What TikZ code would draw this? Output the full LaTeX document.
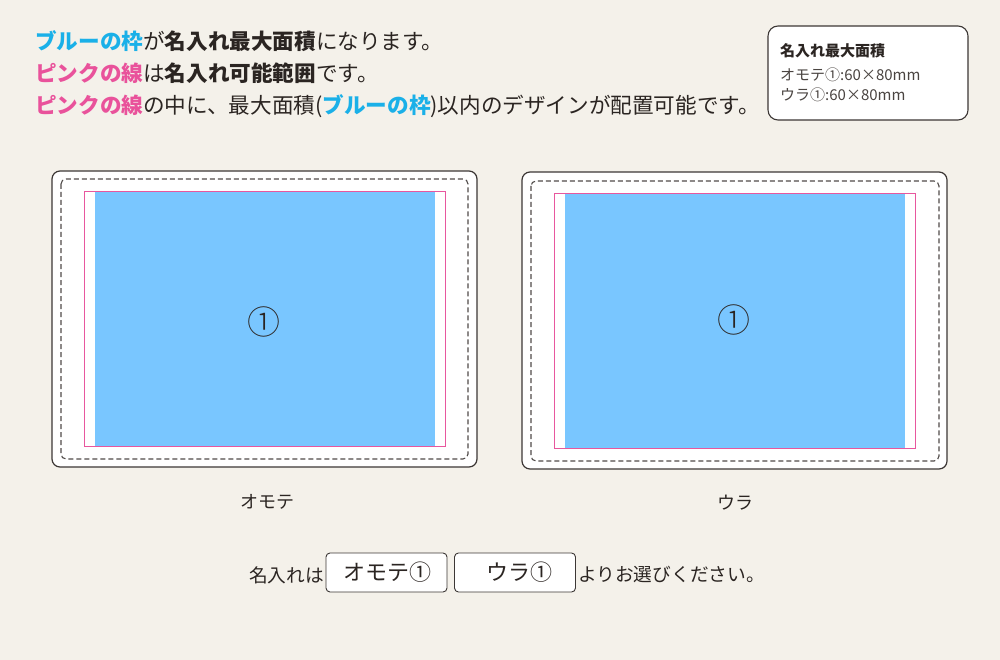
\documentclass[tikz,border=0pt]{standalone}
\usepackage{fontspec}
\setmainfont{Noto Sans CJK JP}
\newfontfamily\cjk{Noto Sans CJK JP}
\newfontfamily\cjkl{Noto Sans CJK JP Light}
\definecolor{bgc}{HTML}{F4F1EA}
\definecolor{txt}{HTML}{2B2522}
\definecolor{cyanT}{HTML}{1AB0E8}
\definecolor{pinkT}{HTML}{E9529B}
\definecolor{blueF}{HTML}{79C6FF}
\definecolor{pinkL}{HTML}{E8579E}
\definecolor{edge}{HTML}{3C3735}
\definecolor{gtxt}{HTML}{4A4441}
\begin{document}
\begin{tikzpicture}[x=1pt,y=-1pt,
  card/.style={draw=edge,line width=1.2pt,fill=white,rounded corners=8pt},
  dashline/.style={draw=edge!90,line width=1.1pt,dash pattern=on 5pt off 3pt,rounded corners=5pt},
  pinkline/.style={draw=pinkL,line width=0.9pt},
  bluearea/.style={fill=blueF},
  headtxt/.style={anchor=base west,inner sep=0pt,font=\cjk\fontsize{21.6}{24}\selectfont,text=txt},
  lbl/.style={inner sep=0pt,font=\cjk\fontsize{18}{20}\selectfont,text=txt},
  circ/.style={inner sep=0pt,font=\cjkl\fontsize{33}{34}\selectfont,text=txt},
  btn/.style={draw=edge,line width=0.9pt,fill=white,rounded corners=4pt,minimum width=121pt,minimum height=39pt,inner sep=0pt,font=\cjk\fontsize{22}{24}\selectfont,text=txt},
  seltxt/.style={inner sep=0pt,font=\cjk\fontsize{18.7}{22}\selectfont,text=txt},
  legtxt/.style={anchor=base west,inner sep=0pt,font=\cjk\fontsize{15}{16}\selectfont,text=gtxt}]
\fill[bgc] (0,0) rectangle (1000,660);
\useasboundingbox (0,0) rectangle (1000,660);

% headings
\node[headtxt] (h1) at (35,50) {{\bfseries\color{cyanT}ブルーの枠}が{\bfseries 名入れ最大面積}になります。};
\node[headtxt] (h2) at (35,82) {{\bfseries\color{pinkT}ピンクの線}は{\bfseries 名入れ可能範囲}です。};
\node[headtxt] (h3) at (35,114) {{\bfseries\color{pinkT}ピンクの線}の中に、最大面積({\bfseries\color{cyanT}ブルーの枠})以内のデザインが配置可能です。};

% legend box
\draw[draw=edge,line width=1.1pt,fill=white,rounded corners=10pt] (768,26) rectangle (968,120);
\node[anchor=base west,inner sep=0pt,font=\cjk\bfseries\fontsize{15}{18}\selectfont,text=txt] (lg1) at (780,57) {名入れ最大面積};
\node[legtxt] (lg2) at (780,81) {オモテ①:60×80mm};
\node[legtxt] (lg3) at (780,101) {ウラ①:60×80mm};

% left card (omote)
\draw[card] (52,171) rectangle (477,467);
\draw[dashline] (61,179) rectangle (468,459);
\fill[bluearea] (95,191) rectangle (435,446);
\draw[pinkline] (84,191) rectangle (445,446);
\node[circ] (c1) at (264,322) {①};
\node[lbl] (omote) at (267,502) {オモテ};

% right card (ura)
\draw[card] (522,172) rectangle (947,469);
\draw[dashline] (531,181) rectangle (939,461);
\fill[bluearea] (565,193) rectangle (905,448);
\draw[pinkline] (554,193) rectangle (915,448);
\node[circ] (c2) at (734,320) {①};
\node[lbl] (ura) at (735,503) {ウラ};

% selection row
\node[seltxt,anchor=east] (s1) at (324,575) {名入れは};
\node[btn] (b1) at (386.5,572.5) {\hspace*{2pt}オモテ①};
\node[btn] (b2) at (515,572.5) {\hspace*{8pt}ウラ①};
\node[seltxt,anchor=west] (s2) at (578,575) {よりお選びください。};
\end{tikzpicture}
\end{document}
